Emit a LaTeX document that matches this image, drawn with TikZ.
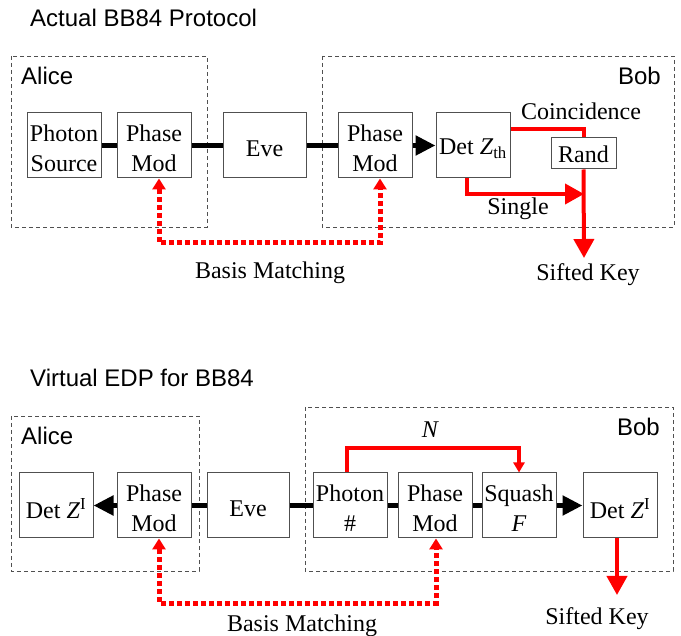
\documentclass[tikz,border=0pt]{standalone}
\usepackage{fontspec}
\setmainfont{Liberation Serif}
\setsansfont{Liberation Sans}
\usetikzlibrary{arrows.meta}
\definecolor{boxgray}{RGB}{80,80,80}
\definecolor{pured}{RGB}{255,0,0}
\begin{document}
\begin{tikzpicture}[x=1pt,y=-1pt,
  blk/.style={draw=boxgray, line width=1pt, minimum width=74pt, minimum height=65pt, inner sep=0pt},
  boxtext/.style={inner sep=0pt, align=center, font=\fontsize{24}{30}\selectfont},
  frame/.style={draw=boxgray, line width=0.9pt, dash pattern=on 4pt off 3pt},
  sanslbl/.style={font=\sffamily\fontsize{24}{28}\selectfont, inner sep=0pt},
  seriflbl/.style={font=\fontsize{24}{28}\selectfont, inner sep=0pt},
  fiber/.style={line width=5pt, black},
  bigarrow/.style={line width=5pt, black, -{Triangle[length=20pt,width=19pt]}},
  redline/.style={line width=4pt, pured},
  redarrow/.style={line width=4pt, pured, -{Triangle[length=19pt,width=20pt]}},
  smallred/.style={line width=4pt, pured, -{Triangle[length=10pt,width=11pt]}},
  dotarrow/.style={line width=5pt, pured, dash pattern=on 5pt off 3pt, {Triangle[length=11pt,width=13pt]}-{Triangle[length=11pt,width=13pt]}}
]
\useasboundingbox (0,0) rectangle (681,636);

% ---------------- Top: Actual BB84 Protocol ----------------
\node[sanslbl, anchor=base west] (t1) at (30,27) {Actual BB84 Protocol};
\draw[frame] (11,56) rectangle (207,227);
\draw[frame] (322,56) rectangle (674,227);
\node[sanslbl, anchor=base west] (alice1) at (21,85) {Alice};
\node[sanslbl, anchor=base east] (bob1) at (661,85) {Bob};

\node[blk] (ps) at (64,145.5) {};
\node[boxtext] (pst) at ([yshift=-3pt]ps.center) {Photon\\Source};
\node[blk] (pm1) at (154,145.5) {};
\node[boxtext] (pm1t) at ([yshift=-3pt]pm1.center) {Phase\\Mod};
\node[blk, minimum width=83pt] (eve1) at (264.5,145.5) {};
\node[boxtext] (eve1t) at ([yshift=-3pt]eve1.center) {Eve};
\node[blk] (pm2) at (375,145.5) {};
\node[boxtext] (pm2t) at ([yshift=-3pt]pm2.center) {Phase\\Mod};
\node[blk] (det1) at (473,145.5) {};
\node[boxtext] (det1t) at ([yshift=-3pt]det1.center) {Det \textit{Z}\textsubscript{th}};
\node[blk, minimum width=65pt, minimum height=31pt] (rand) at (583.5,153.5) {};
\node[boxtext] (randt) at ([yshift=-1pt]rand.center) {Rand};

\draw[fiber] (ps) -- (pm1);
\draw[fiber] (pm1) -- (eve1);
\draw[fiber] (eve1) -- (pm2);
\draw[bigarrow] (pm2) -- (det1);

\draw[redline] ([yshift=16.5pt]det1.east) -| (rand.north);
\node[seriflbl] (coinc) at (581,111) {Coincidence};
\coordinate (sk1tip) at (584,258);
\draw[redarrow] (rand.south) -- (sk1tip);
\coordinate (single) at (584,194);
\draw[redarrow] ([xshift=-6pt]det1.south) |- (single);
\node[seriflbl] (singlelbl) at (518,209) {Single};
\node[seriflbl] (sk1) at (588,275) {Sifted Key};

\coordinate (bm1) at (270,243);
\draw[dotarrow] ([xshift=5pt]pm1.south) |- (bm1) -| ([xshift=5pt]pm2.south);
\node[seriflbl] (bm1lbl) at (270,273) {Basis Matching};

% ---------------- Bottom: Virtual EDP for BB84 ----------------
\node[sanslbl, anchor=base west] (t2) at (30,387) {Virtual EDP for BB84};
\draw[frame] (11,416) rectangle (199,571);
\draw[frame] (305,407) rectangle (673,571);
\node[sanslbl, anchor=base west] (alice2) at (21,445) {Alice};
\node[sanslbl, anchor=base east] (bob2) at (660,436) {Bob};

\node[blk] (deta) at (56,505.5) {};
\node[boxtext] (detat) at ([yshift=-3pt]deta.center) {Det \textit{Z}\textsuperscript{I}};
\node[blk] (pma) at (154,505.5) {};
\node[boxtext] (pmat) at ([yshift=-3pt]pma.center) {Phase\\Mod};
\node[blk, minimum width=82pt] (eve2) at (248,505.5) {};
\node[boxtext] (eve2t) at ([yshift=-3pt]eve2.center) {Eve};
\node[blk] (ph) at (350,505.5) {};
\node[boxtext] (pht) at ([yshift=-3pt]ph.center) {Photon\\\#};
\node[blk] (pmb) at (435,505.5) {};
\node[boxtext] (pmbt) at ([yshift=-3pt]pmb.center) {Phase\\Mod};
\node[blk] (sq) at (519,505.5) {};
\node[boxtext] (sqt) at ([yshift=-3pt]sq.center) {Squash\\\textit{F}};
\node[blk] (detb) at (620,505.5) {};
\node[boxtext] (detbt) at ([yshift=-3pt]detb.center) {Det \textit{Z}\textsuperscript{I}};

\draw[bigarrow] (pma) -- (deta);
\draw[fiber] (pma) -- (eve2);
\draw[fiber] (eve2) -- (ph);
\draw[fiber] (ph) -- (pmb);
\draw[fiber] (pmb) -- (sq);
\draw[bigarrow] (sq) -- (detb);

\coordinate (ncorner) at (347,448);
\draw[smallred] ([xshift=-3pt]ph.north) -- (ncorner) -| (sq.north);
\node[seriflbl, font=\itshape\fontsize{24}{28}\selectfont] (nlbl) at (430,430) {N};

\coordinate (sk2tip) at (617,595);
\draw[redarrow] ([xshift=-3pt]detb.south) -- (sk2tip);
\node[seriflbl] (sk2) at (597,619) {Sifted Key};

\coordinate (bm2) at (300,603);
\draw[dotarrow] ([xshift=5pt]pma.south) |- (bm2) -| ([xshift=1pt]pmb.south);
\node[seriflbl] (bm2lbl) at (302,626) {Basis Matching};
\end{tikzpicture}
\end{document}
